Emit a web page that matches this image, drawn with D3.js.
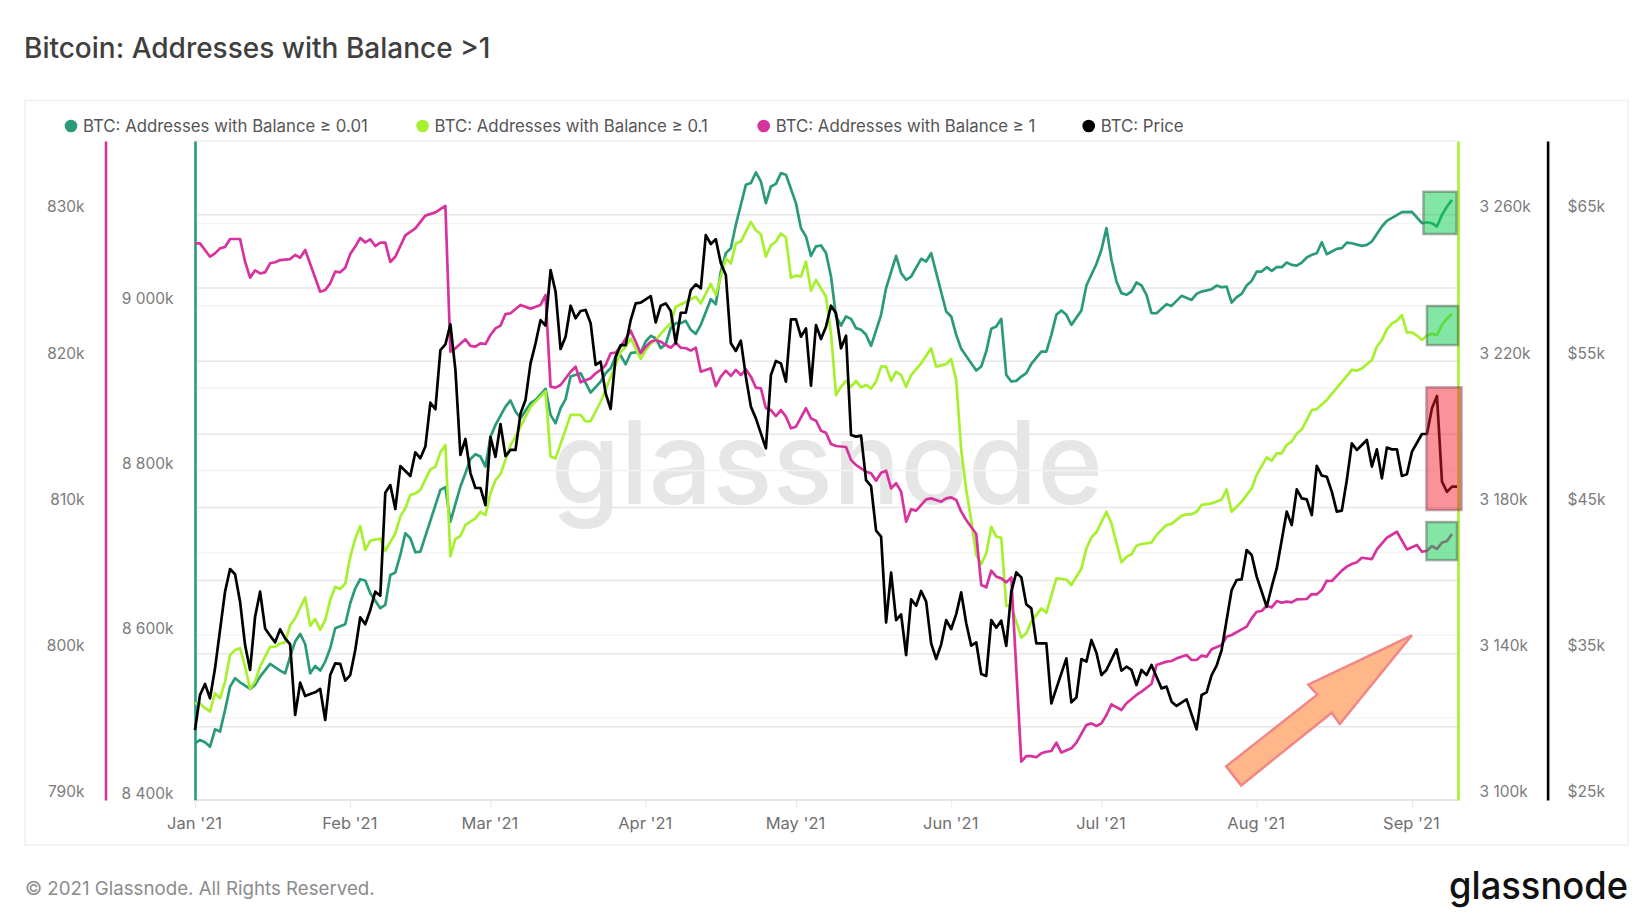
<!DOCTYPE html>
<html>
<head>
<meta charset="utf-8">
<script src="https://cdnjs.cloudflare.com/ajax/libs/d3/7.8.5/d3.min.js"></script>
<style>
  html, body { margin: 0; padding: 0; background: #fff; }
  svg { display: block; }
  text { font-family: Inter, "Noto Sans", sans-serif; }
</style>
</head>
<body>
<svg id="chart" width="1650" height="914"></svg>
<script>
// [day since Jan 1, value]
var balance001 = [[0,8468.8],[1,8472.9],[2,8470],[3,8464.8],[4,8485.8],[5,8483],[6,8509.3],[7,8537.6],[8,8547.8],[9,8542.9],[11,8534.8],[12,8539.7],[13,8549.8],[15,8565.2],[17,8557.1],[18,8553.8],[19,8574],[20,8592.3],[21,8601.6],[22,8589.4],[23,8553.8],[24,8562.7],[25,8557.1],[26,8568],[27,8584.2],[28,8608.5],[30,8613.3],[31,8638.8],[32,8657],[33,8668],[34,8666.4],[35,8651],[37,8632.8],[38,8636.8],[39,8673.2],[40,8676.1],[41,8697.5],[42,8723.8],[43,8717.8],[44,8700.8],[45,8701.6],[49,8776.5],[50,8779.7],[51,8738],[53,8780.5],[54,8796.7],[55,8814],[56,8819.8],[57,8816.9],[58,8804.7],[59,8840.8],[60,8855.4],[62,8877.6],[63,8885],[64,8871.6],[65,8863.5],[67,8881.7],[68,8885.7],[70,8899.1],[71,8867.5],[72,8857.4],[73,8875.6],[74,8886.6],[75,8914.1],[77,8918.1],[79,8894.6],[81,8908],[82,8918.1],[83,8924.2],[84,8938.4],[85,8939.6],[86,8929],[87,8942.4],[88,8943.6],[89,8943.2],[90,8956.6],[91,8963.5],[92,8960.6],[93,8948.5],[94,8953.3],[95,8972.8],[96,8978.8],[97,8978.8],[98,8981.7],[99,8970.8],[100,8965.9],[101,8976.8],[103,9008],[104,9001.9],[105,9041.6],[106,9063.9],[107,9069.9],[108,9098.3],[110,9146.8],[111,9148.9],[112,9161.8],[113,9150.9],[114,9124.6],[115,9144.8],[116,9148],[117,9161],[118,9159],[120,9124.6],[121,9094.2],[122,9084.1],[123,9060.6],[124,9072],[125,9073.2],[126,9063.9],[127,9035.5],[128,8987],[129,8976],[130,8987],[131,8984.1],[132,8972.8],[133,8970.8],[134,8964.7],[135,8951.3],[137,8989],[138,9021.4],[140,9060.6],[141,9039.6],[142,9031.5],[143,9035.5],[145,9057],[146,9053.7],[147,9063.9],[150,8993],[151,8987],[152,8964.7],[153,8947.7],[156,8921.4],[157,8926.2],[158,8944.4],[159,8972],[160,8974.8],[161,8984.1],[162,8916.1],[163,8908],[164,8908.8],[165,8914.1],[166,8918.1],[167,8929.5],[169,8944.4],[170,8944.4],[171,8964.7],[172,8989],[173,8994.2],[174,8989],[175,8976.8],[177,8994.2],[178,9024.6],[180,9050.9],[181,9067.9],[182,9094.2],[183,9055.8],[184,9029.4],[185,9015.3],[186,9013.3],[187,9017.3],[188,9028.2],[189,9024.6],[190,9013.3],[191,8991],[192,8990.9],[194,9001.9],[195,8999.8],[197,9012],[199,9007.1],[200,9014.4],[201,9017.2],[203,9020.1],[204,9024.5],[205,9022.5],[206,9023.3],[207,9003.9],[208,9010.4],[209,9014.4],[210,9024.5],[211,9030.2],[212,9041.5],[213,9041.5],[214,9046.8],[215,9042.3],[216,9046.8],[217,9046.8],[218,9052.4],[219,9049.6],[220,9048.8],[221,9052.4],[222,9058.5],[223,9061.8],[224,9063.8],[225,9077.1],[226,9062.6],[227,9065.8],[228,9069],[229,9069.9],[230,9076.7],[231,9075.9],[233,9072.7],[234,9073.9],[235,9078],[237,9096.2],[238,9103.1],[241,9113.6],[243,9114],[245,9100.2],[246,9101.4],[247,9100.2],[248,9096.2],[249,9110.3],[250,9120.5],[251,9128.6]];

var balance01 = [[0,3126.4],[1,3126.4],[2,3125.1],[3,3124.2],[4,3129.2],[5,3127.8],[6,3132.4],[7,3139.6],[8,3141],[9,3141.5],[10,3136.5],[11,3130.5],[12,3132.4],[13,3136.5],[14,3139.2],[15,3141.9],[16,3141.9],[17,3142.8],[18,3143.1],[19,3147.8],[20,3149.7],[22,3155.4],[23,3147.7],[24,3149.5],[25,3146.5],[26,3149.2],[27,3154.7],[28,3158.3],[29,3157.7],[30,3159.2],[31,3166.5],[32,3171.5],[33,3174.9],[34,3168.4],[35,3170.9],[37,3171.5],[38,3168.1],[40,3172.9],[41,3177.5],[42,3179.8],[43,3183.4],[44,3183.8],[45,3184.8],[47,3190.4],[48,3191.1],[49,3195.1],[50,3197.1],[51,3166.7],[52,3171.4],[53,3172.2],[54,3175.2],[56,3177],[57,3178.8],[58,3177.9],[59,3183.8],[60,3187.5],[61,3189.1],[62,3193],[63,3197],[64,3199.3],[65,3202.1],[67,3207.5],[70,3211.8],[71,3193.9],[72,3193.4],[75,3205.3],[77,3205.3],[78,3203.5],[79,3203.6],[81,3208.9],[82,3212.1],[83,3215.7],[85,3222.6],[86,3223.9],[87,3226.2],[88,3223.5],[89,3220.6],[90,3223],[91,3224.8],[92,3225.8],[94,3229],[95,3230.3],[96,3234.9],[98,3236.2],[100,3237.6],[101,3235.8],[103,3241.1],[104,3238.1],[106,3248.1],[107,3246.7],[108,3252.2],[109,3252.7],[111,3258.1],[112,3255.8],[113,3254.7],[114,3248.6],[115,3251.7],[116,3252.7],[117,3254.9],[118,3253.8],[119,3242.8],[120,3243.4],[121,3243.1],[122,3247.2],[123,3239.3],[124,3242.2],[126,3237.6],[127,3227.6],[128,3210.7],[129,3213],[130,3214.6],[131,3213],[132,3214.6],[133,3212.8],[134,3213.5],[135,3212.5],[136,3214.4],[137,3218.5],[138,3218.5],[139,3214.6],[140,3217.1],[141,3216.2],[142,3213],[143,3216.2],[145,3219.4],[147,3223.5],[148,3218.5],[150,3219.2],[151,3220.6],[152,3214.8],[153,3195.7],[154,3184.8],[155,3176.6],[156,3167],[157,3164.5],[158,3167.4],[159,3174.7],[160,3172],[161,3171.7],[162,3153.1],[163,3153.1],[165,3144.4],[166,3145.6],[167,3148.8],[169,3152.4],[170,3151.2],[172,3160.6],[174,3160.3],[175,3158.8],[177,3163.3],[178,3168.8],[179,3171.8],[180,3173.2],[182,3178.8],[183,3175.6],[185,3165],[186,3166.5],[187,3167.2],[188,3169.5],[189,3170],[191,3170.4],[192,3172.5],[194,3175.2],[195,3175.5],[197,3177.7],[198,3178.1],[199,3178.1],[200,3178.8],[201,3180.7],[203,3181.1],[205,3182.2],[206,3184.9],[207,3178.8],[209,3181.6],[211,3185.2],[212,3188.9],[213,3191.3],[214,3193.7],[215,3192.8],[216,3194.8],[217,3194.8],[218,3197.1],[219,3198],[220,3200.2],[221,3201.3],[223,3206.6],[224,3206.9],[226,3209.4],[231,3217.6],[232,3217.4],[233,3218],[235,3220.3],[236,3224],[237,3225.8],[238,3228.7],[239,3230.3],[240,3231.1],[241,3232.6],[242,3227.8],[243,3227.9],[244,3227],[245,3225.8],[246,3227],[247,3227.5],[248,3227.1],[249,3229.9],[250,3231.7],[251,3232.9]];

var balance1 = [[0,828.05],[1,828.05],[3,827.14],[4,827.37],[5,827.71],[6,827.8],[7,828.35],[9,828.35],[10,826.8],[11,825.71],[12,826.21],[13,826],[14,826.07],[15,826.69],[16,826.76],[17,826.91],[19,826.98],[20,827.26],[21,827.07],[22,827.6],[25,824.75],[26,824.86],[27,825.32],[28,826.12],[29,826.07],[30,826.39],[31,827.32],[32,827.83],[33,828.42],[34,828.12],[35,828.33],[36,827.87],[37,828.1],[38,828.1],[39,826.78],[40,827.14],[42,828.6],[44,829.08],[46,829.95],[48,830.17],[50,830.61],[51,820.65],[52,820.88],[54,821.49],[55,821.04],[56,820.99],[57,821.22],[58,821.17],[59,821.79],[60,822.24],[61,822.43],[62,823.22],[63,823.27],[65,823.84],[67,823.59],[69,823.84],[70,824.52],[71,818.26],[72,818.19],[73,818.37],[75,819.28],[76,819.62],[77,818.55],[79,818.83],[80,819.17],[81,819.4],[82,819.74],[83,820.54],[84,820.58],[85,820.99],[87,822.08],[88,821.33],[89,820.54],[90,820.99],[91,821.33],[92,821.45],[93,821.33],[94,821.1],[95,820.92],[96,821.26],[97,820.92],[98,820.88],[99,820.72],[100,820.92],[101,819.28],[102,819.4],[103,819.51],[104,818.3],[105,818.94],[106,819.35],[107,818.99],[108,819.4],[109,819.05],[110,819.44],[111,818.94],[112,818.19],[113,818.14],[114,816.78],[115,816.66],[116,816.25],[117,816.66],[118,816.21],[119,815.41],[120,815.52],[122,816.78],[123,816.09],[124,815.93],[125,815.25],[126,815.11],[127,814.33],[128,814.2],[130,814.13],[131,813.24],[132,812.9],[134,812.44],[135,812.33],[136,811.83],[137,812.37],[138,812.51],[139,811.3],[140,811.65],[141,811.08],[142,809.02],[143,809.87],[144,809.78],[146,810.55],[147,810.62],[149,810.39],[150,810.62],[151,810.69],[152,810.51],[153,809.71],[154,809.14],[156,808.18],[157,804.7],[158,804.54],[159,805.68],[160,805.27],[161,805.15],[162,804.88],[163,805.22],[165,792.62],[166,793],[167,793],[168,792.92],[169,793.19],[170,793.3],[171,793.35],[172,793.92],[173,793.24],[175,793.53],[176,793.92],[178,795.13],[179,795.24],[180,795.06],[181,795.24],[182,795.81],[183,796.54],[185,796.15],[186,796.61],[188,797.18],[189,797.41],[191,797.93],[192,799.23],[194,799.46],[195,799.5],[196,799.68],[198,799.91],[199,799.57],[200,799.57],[201,799.87],[202,799.8],[203,800.3],[205,800.6],[206,801.16],[207,801.28],[210,801.85],[211,802.42],[212,802.87],[213,802.92],[214,803.28],[215,803.17],[216,803.6],[217,803.49],[218,803.56],[219,803.51],[220,803.72],[222,803.74],[223,804.08],[224,804.06],[225,804.35],[226,804.99],[227,804.97],[229,805.68],[230,805.95],[231,806.13],[232,806.25],[233,806.56],[235,806.47],[236,807.13],[238,807.93],[240,808.34],[242,807.13],[244,807.43],[245,806.97],[246,807.04],[247,807.36],[248,807.16],[249,807.59],[250,807.7],[251,808.18]];

var price = [[0,29.78],[1,32.18],[2,32.93],[3,31.95],[4,34],[5,36.62],[6,39.24],[7,40.79],[8,40.43],[9,38.56],[10,35.59],[11,33.89],[12,37.53],[13,39.24],[14,36.73],[15,36.23],[16,35.78],[17,36.67],[18,36.05],[19,35.64],[20,30.81],[21,33.02],[22,32.11],[23,32.25],[24,32.36],[25,32.59],[26,30.47],[27,33.54],[28,34.34],[29,34.3],[30,33.16],[31,33.54],[32,35.25],[33,37.49],[34,37.01],[35,37.99],[36,39.24],[37,38.97],[38,46.01],[39,46.53],[40,44.89],[41,47.83],[43,47.15],[44,48.77],[45,48.36],[46,49.16],[47,52.16],[48,51.71],[49,55.76],[50,56.15],[51,57.52],[52,54.4],[53,48.59],[54,49.68],[55,47.35],[56,46.33],[57,46.33],[58,45.16],[59,49.81],[60,48.46],[61,50.7],[62,48.51],[63,48.93],[64,48.93],[65,51.43],[66,52.35],[67,54.85],[68,56.22],[69,57.81],[70,57.43],[71,61.23],[72,59.75],[73,55.83],[74,56.67],[75,58.79],[76,57.93],[77,58.43],[78,58.5],[79,57.59],[80,54.74],[81,54.97],[82,52.8],[83,51.73],[84,55.31],[85,56.1],[86,56.1],[87,57.81],[88,58.95],[89,59],[90,59.23],[91,59.45],[92,57.65],[93,58.79],[94,58.95],[95,58.43],[96,56.22],[97,58.31],[98,58.31],[99,59.86],[100,60.25],[101,59.98],[102,63.62],[103,63.01],[104,63.33],[105,61.69],[106,60.89],[107,56.22],[108,55.7],[109,56.4],[110,53.94],[111,51.89],[112,51.09],[114,49.04],[115,54.05],[116,55.01],[117,54.85],[118,53.6],[119,57.86],[120,57.86],[121,56.67],[122,57.24],[123,53.33],[124,57.47],[125,56.51],[126,57.36],[127,58.79],[128,58.27],[129,55.88],[130,56.74],[131,49.95],[132,49.84],[133,49.91],[134,46.87],[135,46.46],[136,43.41],[137,43],[138,37.14],[139,40.54],[140,37.3],[141,37.69],[142,34.91],[143,38.72],[144,38.28],[145,39.29],[146,38.56],[147,35.71],[148,34.64],[149,35.64],[150,37.3],[151,36.69],[152,37.71],[153,39.19],[154,37.08],[155,35.55],[156,35.78],[157,33.61],[158,33.48],[159,37.3],[160,36.78],[161,37.26],[162,35.53],[163,39.24],[164,40.56],[165,40.22],[166,38.37],[167,38.1],[168,35.71],[170,35.71],[171,31.61],[174,34.68],[175,31.68],[176,32],[177,34.64],[178,34.46],[179,35.94],[180,35.07],[181,33.54],[182,33.89],[184,35.3],[185,33.84],[186,34.11],[187,33.89],[188,32.86],[189,33.89],[190,33.54],[191,34.23],[192,33.43],[193,32.63],[194,32.75],[195,31.72],[196,31.43],[198,31.88],[200,29.83],[201,32.18],[202,32.36],[203,33.54],[204,34.18],[205,35.25],[206,37.3],[207,39.35],[208,40.04],[209,40.08],[210,42.09],[211,41.75],[212,40.27],[214,38.21],[215,39.58],[216,40.83],[218,44.71],[219,43.8],[220,46.23],[221,45.62],[222,45.55],[223,44.48],[224,47.85],[225,47.17],[226,47.1],[227,46.08],[228,44.71],[229,44.78],[230,46.87],[231,49.38],[232,48.93],[234,49.61],[235,47.79],[236,48.97],[237,46.99],[238,49.09],[239,48.97],[240,48.97],[241,47.15],[242,47.27],[243,48.81],[245,50.02],[246,50.02],[247,51.78],[248,52.62],[249,46.76],[250,46.07],[251,46.42],[252,46.42]];

var legendLabels = ["BTC: Addresses with Balance ≥ 0.01", "BTC: Addresses with Balance ≥ 0.1", "BTC: Addresses with Balance ≥ 1", "BTC: Price"];
var legendDotX = [71, 422.6, 763.7, 1088.7];

var ticks1 = [790, 800, 810, 820, 830];
var ticks001 = [8400, 8600, 8800, 9000];
var ticks01 = [3100, 3140, 3180, 3220, 3260];
var ticksPrice = [25, 35, 45, 55, 65];
var gridStrong = [795, 800, 805, 810, 815, 820, 825, 830];
var gridLight = [8500, 8600, 8700, 8800, 8900, 9000, 9100];
var months = ["2021-01-01", "2021-02-01", "2021-03-01", "2021-04-01", "2021-05-01", "2021-06-01", "2021-07-01", "2021-08-01", "2021-09-01"];

// annotations in [day, price] so they follow the scales
var greenBoxes = [[245.3, 251.9, 66.58, 63.69], [246, 252.2, 58.77, 56.1], [245.9, 252, 44, 41.4]];
var redBoxes = [[245.9, 252.9, 53.21, 44.82]];
var arrowPoints = [[208.9, 26], [205.9, 27.3], [224.1, 32.2], [222.3, 32.88], [243, 36.26], [228.6, 30.2], [227, 30.97]];

var teal = "#2a9a7b", lime = "#a6f02e", magenta = "#d6339f";

var svg = d3.select("#chart");
var top_ = 141, bottom = 800, left = 195, right = 1458;

var start = Date.UTC(2021, 0, 1);
function dayDate(d) { return new Date(start + d * 864e5); }

var x = d3.scaleUtc().domain([dayDate(0), dayDate(252.2)]).range([left, right]);
var y1 = d3.scaleLinear().domain([790, 835.05]).range([bottom, top_]);
var y001 = d3.scaleLinear().domain([8400, 9200]).range([bottom, top_]);
var y01 = d3.scaleLinear().domain([3100, 3280.2]).range([bottom, top_]);
var yPrice = d3.scaleLinear().domain([25, 70.05]).range([bottom, top_]);

function spaced(v) { return d3.format(",")(v).replace(",", " ") + "k"; }

// title and panel
svg.append("text").attr("x", 24).attr("y", 58).attr("font-size", 28).attr("font-weight", 500)
    .attr("fill", "#3f3f3f").text("Bitcoin: Addresses with Balance >1");
svg.append("rect").attr("x", 25).attr("y", 100.5).attr("width", 1603).attr("height", 744.5)
    .attr("fill", "#fff").attr("stroke", "#efefef").attr("stroke-width", 1.5);

// watermark
svg.append("text").attr("x", 551).attr("y", 504).attr("font-size", 116).attr("font-weight", 500).attr("fill", "#e6e6e6")
    .attr("textLength", 552).attr("lengthAdjust", "spacingAndGlyphs").text("glassnode");

// grid
svg.append("g").selectAll("line").data(gridLight).enter().append("line")
    .attr("x1", left).attr("x2", right)
    .attr("y1", function(d) { return y001(d) }).attr("y2", function(d) { return y001(d) })
    .attr("stroke", "#f4f4f4").attr("stroke-width", 1.5);
svg.append("g").selectAll("line").data(gridStrong).enter().append("line")
    .attr("x1", left).attr("x2", right)
    .attr("y1", function(d) { return y1(d) }).attr("y2", function(d) { return y1(d) })
    .attr("stroke", "#e6e6e6").attr("stroke-width", 1.5);
svg.append("line").attr("x1", left).attr("x2", right).attr("y1", top_).attr("y2", top_)
    .attr("stroke", "#ececec").attr("stroke-width", 1.5);
svg.append("line").attr("x1", left).attr("x2", right).attr("y1", bottom).attr("y2", bottom)
    .attr("stroke", "#dcdcdc").attr("stroke-width", 1.5);

// axes
function styleAxis(g, color, dy) {
    g.select(".domain").attr("stroke", color).attr("stroke-width", 2.6);
    g.selectAll(".tick line").remove();
    g.selectAll(".tick text").attr("fill", "#7b7b7b").attr("font-size", 15.5)
        .attr("font-family", "Inter, sans-serif").attr("dy", dy);
}
function yAxis(make, scale, px, ticks, fmt, color, textX, dy) {
    var g = svg.append("g").attr("transform", "translate(" + px + ",0)")
        .call(make(scale).tickValues(ticks).tickFormat(fmt).tickSizeOuter(0));
    styleAxis(g, color, dy);
    g.selectAll(".tick text").attr("x", textX);
}
yAxis(d3.axisLeft, y1, 105.5, ticks1, function(d) { return d + "k" }, magenta, -21, "-0.2em");
yAxis(d3.axisLeft, y001, left, ticks001, spaced, teal, -21.5, "-0.12em");
yAxis(d3.axisRight, y01, right, ticks01, spaced, lime, 21.5, "-0.2em");
yAxis(d3.axisRight, yPrice, 1547.6, ticksPrice, function(d) { return "$" + d + "k" }, "#000", 20, "-0.2em");

var xAxis = svg.append("g").attr("transform", "translate(0," + bottom + ")")
    .call(d3.axisBottom(x).tickValues(months.map(function(m) { return new Date(m) }))
        .tickFormat(d3.utcFormat("%b '%y")).tickSize(8).tickSizeOuter(0));
xAxis.select(".domain").remove();
xAxis.selectAll(".tick line").attr("stroke", "#e8e8e8");
xAxis.selectAll(".tick text").attr("fill", "#6f6f6f").attr("font-size", 16.5)
    .attr("font-family", "Inter, sans-serif").attr("x", -1).attr("y", 14).attr("dy", "0.9em");

// lines
function addLine(data, scale, color) {
    var line = d3.line()
        .x(function(d) { return x(dayDate(d[0])) })
        .y(function(d) { return scale(d[1]) });
    svg.append("path").datum(data).attr("d", line).attr("fill", "none")
        .attr("stroke", color).attr("stroke-width", 2.7).attr("stroke-linejoin", "round");
}
addLine(balance001, y001, teal);
addLine(balance01, y01, lime);
addLine(balance1, y1, magenta);
addLine(price, yPrice, "#000");

// highlights
function addBoxes(data, fill, stroke) {
    svg.append("g").selectAll("rect").data(data).enter().append("rect")
        .attr("x", function(b) { return x(dayDate(b[0])) })
        .attr("width", function(b) { return x(dayDate(b[1])) - x(dayDate(b[0])) })
        .attr("y", function(b) { return yPrice(b[2]) })
        .attr("height", function(b) { return yPrice(b[3]) - yPrice(b[2]) })
        .attr("fill", fill).attr("stroke", stroke).attr("stroke-width", 2.5);
}
addBoxes(greenBoxes, "rgba(10,205,75,0.5)", "rgba(90,110,90,0.55)");
addBoxes(redBoxes, "rgba(240,30,45,0.48)", "rgba(120,60,80,0.45)");

svg.append("polygon")
    .attr("points", arrowPoints.map(function(p) { return x(dayDate(p[0])) + "," + yPrice(p[1]) }).join(" "))
    .attr("fill", "#ffb688").attr("stroke", "#f28686").attr("stroke-width", 2.5);

// legend
var legend = svg.append("g").selectAll("g").data(legendLabels).enter().append("g")
    .attr("transform", function(d, i) { return "translate(" + legendDotX[i] + ",126)" });
legend.append("circle").attr("r", 6.3).attr("fill", function(d, i) { return [teal, lime, magenta, "#000"][i] });
legend.append("text").attr("x", 12).attr("y", 6).attr("font-size", 16.8).attr("fill", "#555").text(function(d) { return d });

// footer
svg.append("text").attr("x", 25).attr("y", 895).attr("font-size", 18.7).attr("fill", "#8c8c8c")
    .text("© 2021 Glassnode. All Rights Reserved.");
svg.append("text").attr("x", 1449).attr("y", 899).attr("font-size", 38).attr("font-weight", 500).attr("fill", "#111")
    .attr("textLength", 179).attr("lengthAdjust", "spacingAndGlyphs").text("glassnode");
</script>
</body>
</html>
